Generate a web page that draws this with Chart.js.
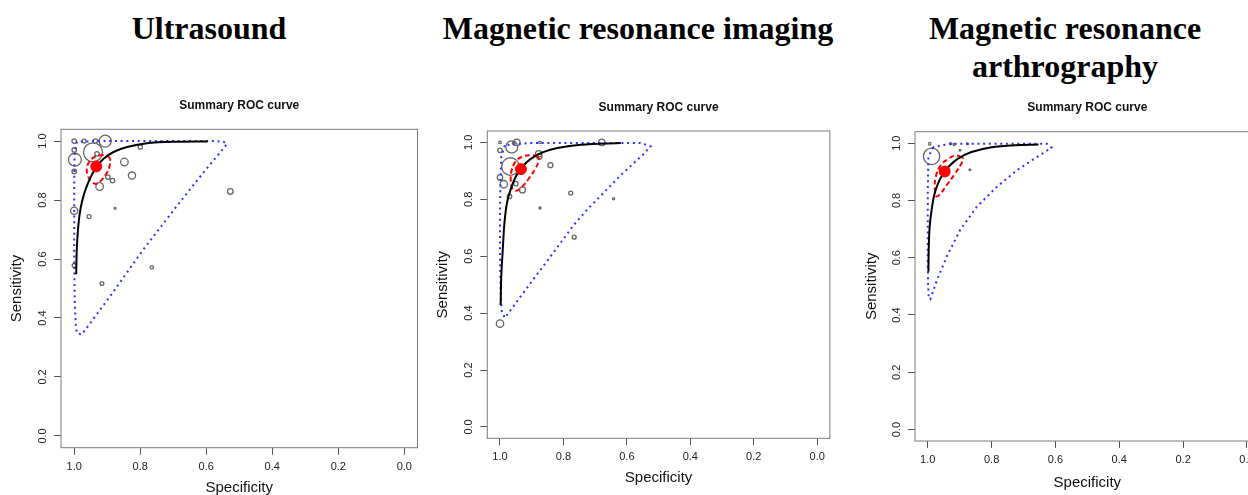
<!DOCTYPE html>
<html><head><meta charset="utf-8">
<script src="https://cdn.jsdelivr.net/npm/chart.js@4.4.0/dist/chart.umd.min.js"></script>
<style>
html,body{margin:0;padding:0;width:1248px;height:495px;overflow:hidden;background:#fff;}
.maintitle{position:absolute;font-family:"Liberation Serif","Times New Roman",serif;font-weight:bold;font-size:32px;line-height:37.5px;text-align:center;color:#000;white-space:nowrap;}
canvas{position:absolute;}
</style></head><body>
<div class="maintitle" style="left:59px;width:300px;top:10px">Ultrasound</div>
<div class="maintitle" style="left:438px;width:400px;top:10px">Magnetic resonance imaging</div>
<div class="maintitle" style="left:915px;width:300px;top:10px">Magnetic resonance<br>arthrography</div>
<canvas id="c1" width="430" height="405" style="left:0px;top:90px"></canvas>
<canvas id="c2" width="410" height="405" style="left:430px;top:90px"></canvas>
<canvas id="c3" width="422" height="405" style="left:850px;top:90px"></canvas>
<script>
// ---------- shared ----------
const tickValues = [0, 0.2, 0.4, 0.6, 0.8, 1.0];
const chartTitle = 'Summary ROC curve';
const xTitle = 'Specificity';
const yTitle = 'Sensitivity';

// ---------- Ultrasound ----------
const usStudySpec = [1.0, 0.970, 0.936, 0.906, 1.0, 0.998, 0.943, 0.931, 1.0, 1.0, 1.0, 0.955, 0.923, 0.898, 0.884, 0.876, 0.848, 0.825, 0.800, 0.527, 0.765, 0.916];
const usStudySens = [1.0, 1.0, 1.0, 1.0, 0.970, 0.937, 0.962, 0.957, 0.897, 0.764, 0.578, 0.744, 0.846, 0.878, 0.866, 0.772, 0.929, 0.883, 0.980, 0.829, 0.572, 0.517];
const usStudyWeight = [22, 20, 22, 60, 22, 64, 95, 22, 22, 36, 20, 20, 38, 22, 22, 9, 38, 36, 22, 28, 17, 19];
const usSrocSpec = [0.994, 0.993, 0.992, 0.987, 0.980, 0.970, 0.957, 0.944, 0.929, 0.911, 0.881, 0.840, 0.780, 0.689, 0.596];
const usSrocSens = [0.548, 0.600, 0.639, 0.719, 0.776, 0.821, 0.861, 0.891, 0.917, 0.940, 0.963, 0.980, 0.993, 0.998, 0.999];
const usConfSpec = [0.891, 0.901, 0.919, 0.939, 0.955, 0.962, 0.958, 0.946, 0.933, 0.919, 0.903, 0.893, 0.891];
const usConfSens = [0.940, 0.951, 0.952, 0.946, 0.929, 0.906, 0.880, 0.861, 0.855, 0.866, 0.889, 0.914, 0.940];
const usPredSpec = [0.992, 0.999, 1.0, 1.0, 1.0, 0.999, 0.998, 0.995, 0.992, 0.977, 0.891, 0.790, 0.689, 0.608, 0.537, 0.548, 0.578, 0.719, 0.921, 0.992];
const usPredSens = [0.998, 0.950, 0.837, 0.723, 0.610, 0.497, 0.440, 0.372, 0.349, 0.344, 0.474, 0.633, 0.780, 0.894, 0.990, 0.998, 1.0, 1.0, 1.0, 0.998];
const usSummary = [0.933, 0.914];

// ---------- Magnetic resonance imaging ----------
const msStudySpec = [1.0, 0.963, 0.947, 0.957, 1.0, 0.967, 1.0, 0.988, 0.950, 0.929, 0.970, 0.874, 0.878, 0.876, 0.841, 0.777, 0.874, 0.642, 0.766, 0.679, 1.0];
const msStudySens = [1.0, 0.984, 1.0, 0.998, 0.972, 0.915, 0.877, 0.853, 0.855, 0.833, 0.810, 1.0, 0.960, 0.950, 0.920, 0.822, 0.769, 0.802, 0.667, 1.0, 0.363];
const msStudyWeight = [13, 60, 32, 14, 22, 88, 27, 37, 22, 30, 22, 13, 32, 27, 25, 20, 11, 11, 20, 32, 37];
const msSrocSpec = [0.998, 0.996, 0.991, 0.986, 0.978, 0.965, 0.950, 0.929, 0.903, 0.866, 0.819, 0.745, 0.619];
const msSrocSens = [0.428, 0.528, 0.628, 0.716, 0.787, 0.839, 0.880, 0.915, 0.942, 0.965, 0.980, 0.992, 0.998];
const msConfSpec = [0.881, 0.904, 0.930, 0.951, 0.963, 0.966, 0.961, 0.948, 0.930, 0.909, 0.888, 0.877, 0.881];
const msConfSens = [0.953, 0.955, 0.950, 0.932, 0.903, 0.868, 0.838, 0.830, 0.844, 0.873, 0.909, 0.938, 0.953];
const msPredSpec = [0.985, 0.996, 0.999, 1.0, 1.0, 0.998, 0.995, 0.985, 0.904, 0.840, 0.768, 0.724, 0.619, 0.551, 0.525, 0.557, 0.694, 0.904, 0.985];
const msPredSens = [0.990, 0.950, 0.832, 0.715, 0.598, 0.481, 0.410, 0.383, 0.505, 0.600, 0.709, 0.765, 0.885, 0.955, 0.986, 0.998, 0.998, 0.998, 0.990];
const msSummary = [0.934, 0.906];

// ---------- Magnetic resonance arthrography ----------
const mraStudySpec = [0.994, 0.988, 0.928, 0.917, 0.899, 0.868, 0.875];
const mraStudySens = [0.998, 0.954, 0.998, 0.995, 0.975, 0.907, 0.998];
const mraStudyWeight = [13, 82, 11, 11, 9, 9, 9];
const mraSrocSpec = [0.998, 0.997, 0.994, 0.988, 0.980, 0.968, 0.952, 0.931, 0.905, 0.863, 0.800, 0.727, 0.653];
const mraSrocSens = [0.551, 0.632, 0.708, 0.766, 0.818, 0.859, 0.893, 0.922, 0.946, 0.969, 0.986, 0.993, 0.995];
const mraConfSpec = [0.894, 0.912, 0.936, 0.960, 0.975, 0.978, 0.973, 0.960, 0.941, 0.915, 0.896, 0.889, 0.894];
const mraConfSens = [0.951, 0.957, 0.945, 0.922, 0.882, 0.841, 0.814, 0.824, 0.853, 0.893, 0.926, 0.945, 0.951];
const mraPredSpec = [0.983, 0.998, 1.0, 1.0, 1.0, 0.999, 0.997, 0.992, 0.971, 0.941, 0.899, 0.847, 0.784, 0.721, 0.659, 0.612, 0.627, 0.774, 0.931, 0.983];
const mraPredSens = [0.986, 0.951, 0.835, 0.719, 0.603, 0.510, 0.458, 0.455, 0.522, 0.603, 0.696, 0.777, 0.847, 0.905, 0.951, 0.984, 0.998, 0.998, 0.998, 0.986];
const mraSummary = [0.947, 0.901];

// ---------- drawing ----------
function pts(xs, ys) { return xs.map((x, i) => ({ x: x, y: ys[i] })); }

const boxPlugin = {
  id: 'rbox',
  beforeDatasetsDraw(chart) {
    const { ctx, chartArea: a } = chart;
    ctx.save();
    ctx.strokeStyle = '#7a7a7a';
    ctx.lineWidth = 1;
    ctx.strokeRect(a.left, a.top, a.right - a.left, a.bottom - a.top);
    ctx.restore();
  }
};

function makeChart(id, d, L) {
  const canvas = document.getElementById(id);
  const W = canvas.width, H = canvas.height;
  const setTicks = (s) => { s.ticks = tickValues.map(v => ({ value: v })); };
  new Chart(canvas, {
    type: 'scatter',
    data: {
      datasets: [
        { label: 'Summary estimate', data: [{ x: d.summary[0], y: d.summary[1] }],
          pointRadius: 5.5, pointBackgroundColor: '#ff0000', pointBorderColor: '#ff0000', pointBorderWidth: 1, showLine: false, order: 0 },
        { label: 'SROC', data: pts(d.srocSpec, d.srocSens), showLine: true, borderColor: '#000000',
          borderWidth: 2, pointRadius: 0, tension: 0.3, order: 1 },
        { label: 'Confidence region', data: pts(d.confSpec, d.confSens), showLine: true, borderColor: '#ff0000',
          borderWidth: 2, borderDash: [5, 3], pointRadius: 0, tension: 0.4, order: 2 },
        { label: 'Prediction region', data: pts(d.predSpec, d.predSens), showLine: true, borderColor: '#2f2fff',
          borderWidth: 2, borderDash: [2, 3.7], pointRadius: 0, tension: 0, order: 3 },
        { label: 'Studies', data: pts(d.studySpec, d.studySens), showLine: false,
          pointRadius: d.studyWeight.map(w => w / 10), pointBorderColor: '#666666',
          pointBackgroundColor: 'rgba(0,0,0,0)', pointBorderWidth: 1.3, order: 4 }
      ]
    },
    options: {
      responsive: false, animation: false, devicePixelRatio: 1,
      events: [],
      layout: { padding: { left: 0, top: 0, bottom: 0, right: W - L.boxRight } },
      plugins: {
        legend: { display: false }, tooltip: { enabled: false },
        title: { display: true, text: chartTitle, fullSize: false, color: '#111',
          font: { family: 'Liberation Sans, Arial, sans-serif', size: 12, weight: 'bold', lineHeight: 1.2 },
          padding: { top: L.titleTop, bottom: L.titleBottom } }
      },
      scales: {
        x: {
          type: 'linear', reverse: true, min: -0.04, max: 1.04,
          afterBuildTicks: setTicks,
          afterFit: (s) => { s.height = H - L.boxBottom; s.paddingLeft = 0; s.paddingRight = 0; },
          grid: { drawOnChartArea: false, drawTicks: true, tickLength: 7, tickColor: '#555', tickWidth: 1 },
          border: { display: false },
          ticks: { color: '#222', padding: L.xTickPad, maxRotation: 0, autoSkip: false,
            font: { family: 'Liberation Sans, Arial, sans-serif', size: 11, lineHeight: 1.2 },
            callback: (v) => Number(v).toFixed(1) },
          title: { display: true, text: xTitle, color: '#111', padding: { top: 0, bottom: L.xTitlePad },
            font: { family: 'Liberation Sans, Arial, sans-serif', size: 15, lineHeight: 1 } }
        },
        y: {
          type: 'linear', min: -0.04, max: 1.04,
          afterBuildTicks: setTicks,
          afterFit: (s) => { s.width = L.boxLeft; s.paddingTop = 0; s.paddingBottom = 0; },
          grid: { drawOnChartArea: false, drawTicks: true, tickLength: 7, tickColor: '#555', tickWidth: 1 },
          border: { display: false },
          ticks: { color: '#222', padding: L.yTickPad, minRotation: 90, maxRotation: 90, crossAlign: 'center', autoSkip: false,
            font: { family: 'Liberation Sans, Arial, sans-serif', size: 11, lineHeight: 1.2 },
            callback: (v) => Number(v).toFixed(1) },
          title: { display: true, text: yTitle, color: '#111', padding: { top: L.yTitlePad, bottom: 0 },
            font: { family: 'Liberation Sans, Arial, sans-serif', size: 15, lineHeight: 1 } }
        }
      }
    },
    plugins: [boxPlugin]
  });
}

makeChart('c1', {
  studySpec: usStudySpec, studySens: usStudySens, studyWeight: usStudyWeight,
  srocSpec: usSrocSpec, srocSens: usSrocSens, confSpec: usConfSpec, confSens: usConfSens,
  predSpec: usPredSpec, predSens: usPredSens, summary: usSummary
}, { boxLeft: 61, boxRight: 417.5, boxBottom: 357.7, titleTop: 8.8, titleBottom: 16.1, xTickPad: 5.7, xTitlePad: 0, yTitlePad: 9.5, yTickPad: 3.6 });

makeChart('c2', {
  studySpec: msStudySpec, studySens: msStudySens, studyWeight: msStudyWeight,
  srocSpec: msSrocSpec, srocSens: msSrocSens, confSpec: msConfSpec, confSens: msConfSens,
  predSpec: msPredSpec, predSens: msPredSens, summary: msSummary
}, { boxLeft: 57.3, boxRight: 400, boxBottom: 348.3, titleTop: 10.5, titleBottom: 16.1, xTickPad: 4.8, xTitlePad: 9.2, yTitlePad: 5.8, yTickPad: 3.3 });

makeChart('c3', {
  studySpec: mraStudySpec, studySens: mraStudySens, studyWeight: mraStudyWeight,
  srocSpec: mraSrocSpec, srocSens: mraSrocSens, confSpec: mraConfSpec, confSens: mraConfSens,
  predSpec: mraPredSpec, predSens: mraPredSens, summary: mraSummary
}, { boxLeft: 65, boxRight: 409.7, boxBottom: 351, titleTop: 10.5, titleBottom: 16.8, xTickPad: 5.4, xTitlePad: 4.8, yTitlePad: 14.2, yTickPad: 3.6 });
</script>
</body></html>
